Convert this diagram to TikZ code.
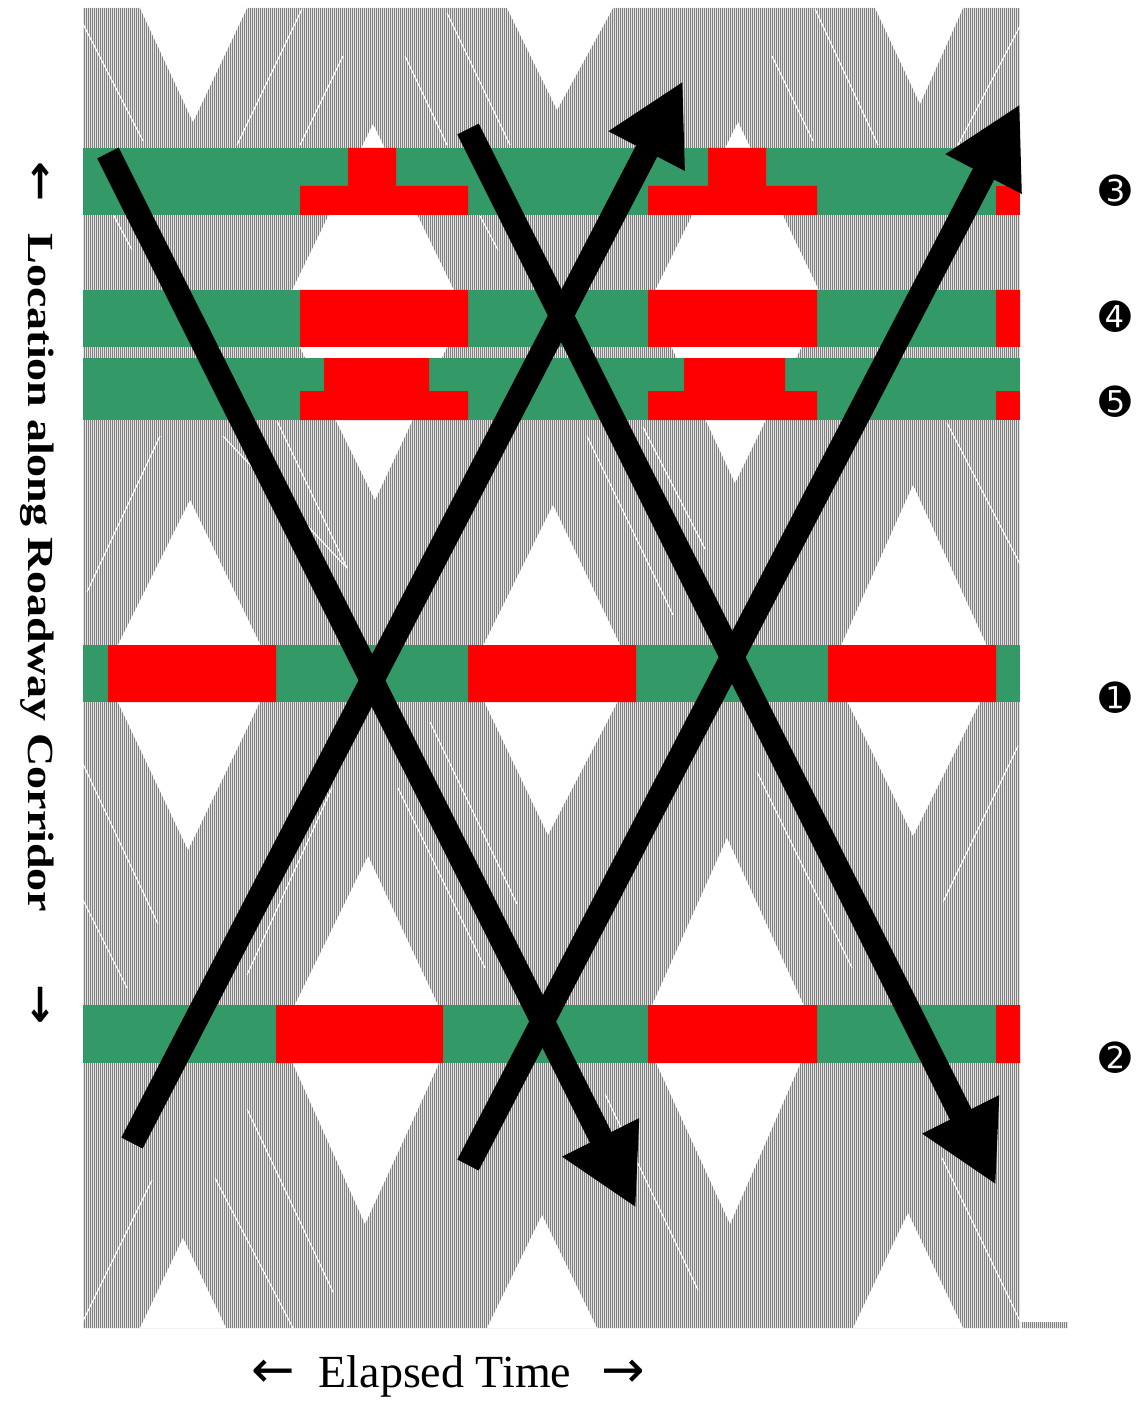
\documentclass[tikz,border=0pt]{standalone}
\usepackage{fontspec}
\setmainfont{Liberation Serif}
\newfontfamily\dingfont{DejaVu Sans}
\usetikzlibrary{arrows.meta,patterns.meta}
\definecolor{signalgreen}{RGB}{51,153,102}
\definecolor{signalred}{RGB}{255,0,0}
\definecolor{trajlight}{RGB}{226,226,226}
\definecolor{trajdark}{RGB}{128,128,128}
\tikzset{
    platoon-band/.style = {preaction={fill=trajlight}, pattern={Lines[angle=90, distance=1pt, line width=0.42pt]}, pattern color=trajdark},
    platoon-gap/.style = {fill=white},
    trajectory-gap/.style = {draw=white, line width=0.55pt},
    green-phase/.style = {fill=signalgreen},
    red-phase/.style = {fill=signalred},
    progression/.style = {line width=12pt, -{Triangle[length=39.5pt, width=40pt]}},
    signal-number/.style = {font=\dingfont\fontsize{19}{19}\selectfont, inner sep=0pt},
    axis-title/.style = {inner sep=0pt},
}

\begin{document}
\begin{tikzpicture}[x=0.5pt, y=-0.5pt]
\useasboundingbox (0,0) rectangle (1136,1401);

\path[platoon-band] (83,8) rectangle (1020,1328) (1022,1322) rectangle (1068,1328);

\path[platoon-gap] (140,8) -- (247,8) -- (193,122) -- cycle;
\path[platoon-gap] (507,8) -- (613,8) -- (557,110) -- cycle;
\path[platoon-gap] (875,8) -- (963,8) -- (920,104) -- cycle;
\path[platoon-gap] (373,124) -- (464,311) -- (375,500) -- (282,311) -- cycle;
\path[platoon-gap] (738,122) -- (824,301) -- (735,483) -- (650,301) -- cycle;
\path[platoon-gap] (190,500) -- (274,673) -- (188,850) -- (104,673) -- cycle;
\path[platoon-gap] (553,505) -- (633,672) -- (548,835) -- (470,672) -- cycle;
\path[platoon-gap] (913,485) -- (997,668) -- (913,836) -- (831,668) -- cycle;
\path[platoon-gap] (368,856) -- (452,1035) -- (365,1224) -- (280,1035) -- cycle;
\path[platoon-gap] (727,838) -- (815,1030) -- (730,1224) -- (641,1030) -- cycle;
\path[platoon-gap] (140,1328) -- (183,1238) -- (226,1328) -- cycle;
\path[platoon-gap] (487,1328) -- (542,1215) -- (597,1328) -- cycle;
\path[platoon-gap] (853,1328) -- (908,1213) -- (963,1328) -- cycle;

\draw[trajectory-gap] (83,24) -- (143,141);
\draw[trajectory-gap] (113,214) -- (132,250);
\draw[trajectory-gap] (302,9) -- (237,145);
\draw[trajectory-gap] (343,56) -- (300,145);
\draw[trajectory-gap] (405,56) -- (447,145);
\draw[trajectory-gap] (447,13) -- (510,145);
\draw[trajectory-gap] (480,216) -- (498,250);
\draw[trajectory-gap] (160,436) -- (87,592);
\draw[trajectory-gap] (223,436) -- (347,568);
\draw[trajectory-gap] (277,421) -- (347,568);
\draw[trajectory-gap] (772,56) -- (813,141);
\draw[trajectory-gap] (815,9) -- (878,145);
\draw[trajectory-gap] (1020,26) -- (958,145);
\draw[trajectory-gap] (587,436) -- (673,615);
\draw[trajectory-gap] (643,427) -- (705,549);
\draw[trajectory-gap] (947,423) -- (1020,564);
\draw[trajectory-gap] (83,764) -- (158,924);
\draw[trajectory-gap] (83,900) -- (127,988);
\draw[trajectory-gap] (247,975) -- (332,788);
\draw[trajectory-gap] (398,788) -- (485,968);
\draw[trajectory-gap] (430,722) -- (517,904);
\draw[trajectory-gap] (247,1109) -- (333,1292);
\draw[trajectory-gap] (215,1178) -- (293,1328);
\draw[trajectory-gap] (152,1180) -- (83,1321);
\draw[trajectory-gap] (757,772) -- (852,968);
\draw[trajectory-gap] (1018,746) -- (943,902);
\draw[trajectory-gap] (605,1094) -- (698,1290);
\draw[trajectory-gap] (942,1158) -- (1020,1321);

\path[green-phase] (83,148) rectangle (1020,215);
\path[red-phase] (300,186) rectangle (468,215) (348,148) rectangle (396,186);
\path[red-phase] (648,186) rectangle (817,215) (708,148) rectangle (766,186);
\path[red-phase] (996,186) rectangle (1020,215);

\path[green-phase] (83,290) rectangle (1020,347);
\path[red-phase] (300,290) rectangle (468,347) (648,290) rectangle (817,347) (996,290) rectangle (1020,347);

\path[green-phase] (83,358) rectangle (1020,420);
\path[red-phase] (300,391) rectangle (468,420) (324,358) rectangle (429,391);
\path[red-phase] (648,391) rectangle (817,420) (684,358) rectangle (785,391);
\path[red-phase] (996,391) rectangle (1020,420);

\path[green-phase] (83,645) rectangle (1020,702);
\path[red-phase] (108,645) rectangle (276,702) (468,645) rectangle (636,702) (828,645) rectangle (996,702);

\path[green-phase] (83,1005) rectangle (1020,1063);
\path[red-phase] (276,1005) rectangle (443,1063) (648,1005) rectangle (817,1063) (996,1005) rectangle (1020,1063);

\coordinate (sb-early-start) at (108,153);
\coordinate (sb-early-end) at (636,1208);
\coordinate (nb-early-start) at (132,1143);
\coordinate (nb-early-end) at (683,81);
\coordinate (sb-late-start) at (468,129);
\coordinate (sb-late-end) at (996,1185);
\coordinate (nb-late-start) at (468,1165);
\coordinate (nb-late-end) at (1020,104);
\draw[progression] (sb-early-start) -- (sb-early-end);
\draw[progression] (nb-early-start) -- (nb-early-end);
\draw[progression] (sb-late-start) -- (sb-late-end);
\draw[progression] (nb-late-start) -- (nb-late-end);

\node[signal-number] (signal-3) at (1115,191) {➌};
\node[signal-number] (signal-4) at (1115,317) {➍};
\node[signal-number] (signal-5) at (1115,402) {➎};
\node[signal-number] (signal-1) at (1115,698) {➊};
\node[signal-number] (signal-2) at (1115,1058) {➋};

\node[axis-title, font=\bfseries\fontsize{23}{23}\selectfont, rotate=-90, yscale=0.8] (location-title) at (37,593) {{\dingfont\fontsize{24}{24}\selectfont ←}\hspace{16pt}Location along Roadway Corridor\hspace{36pt}{\dingfont\fontsize{24}{24}\selectfont →}};
\node[axis-title, font=\fontsize{23}{23}\selectfont] (time-title) at (448,1376) {{\dingfont\fontsize{26}{26}\selectfont ←}\hspace{12pt}Elapsed Time\hspace{15pt}{\dingfont\fontsize{26}{26}\selectfont →}};
\end{tikzpicture}
\end{document}
